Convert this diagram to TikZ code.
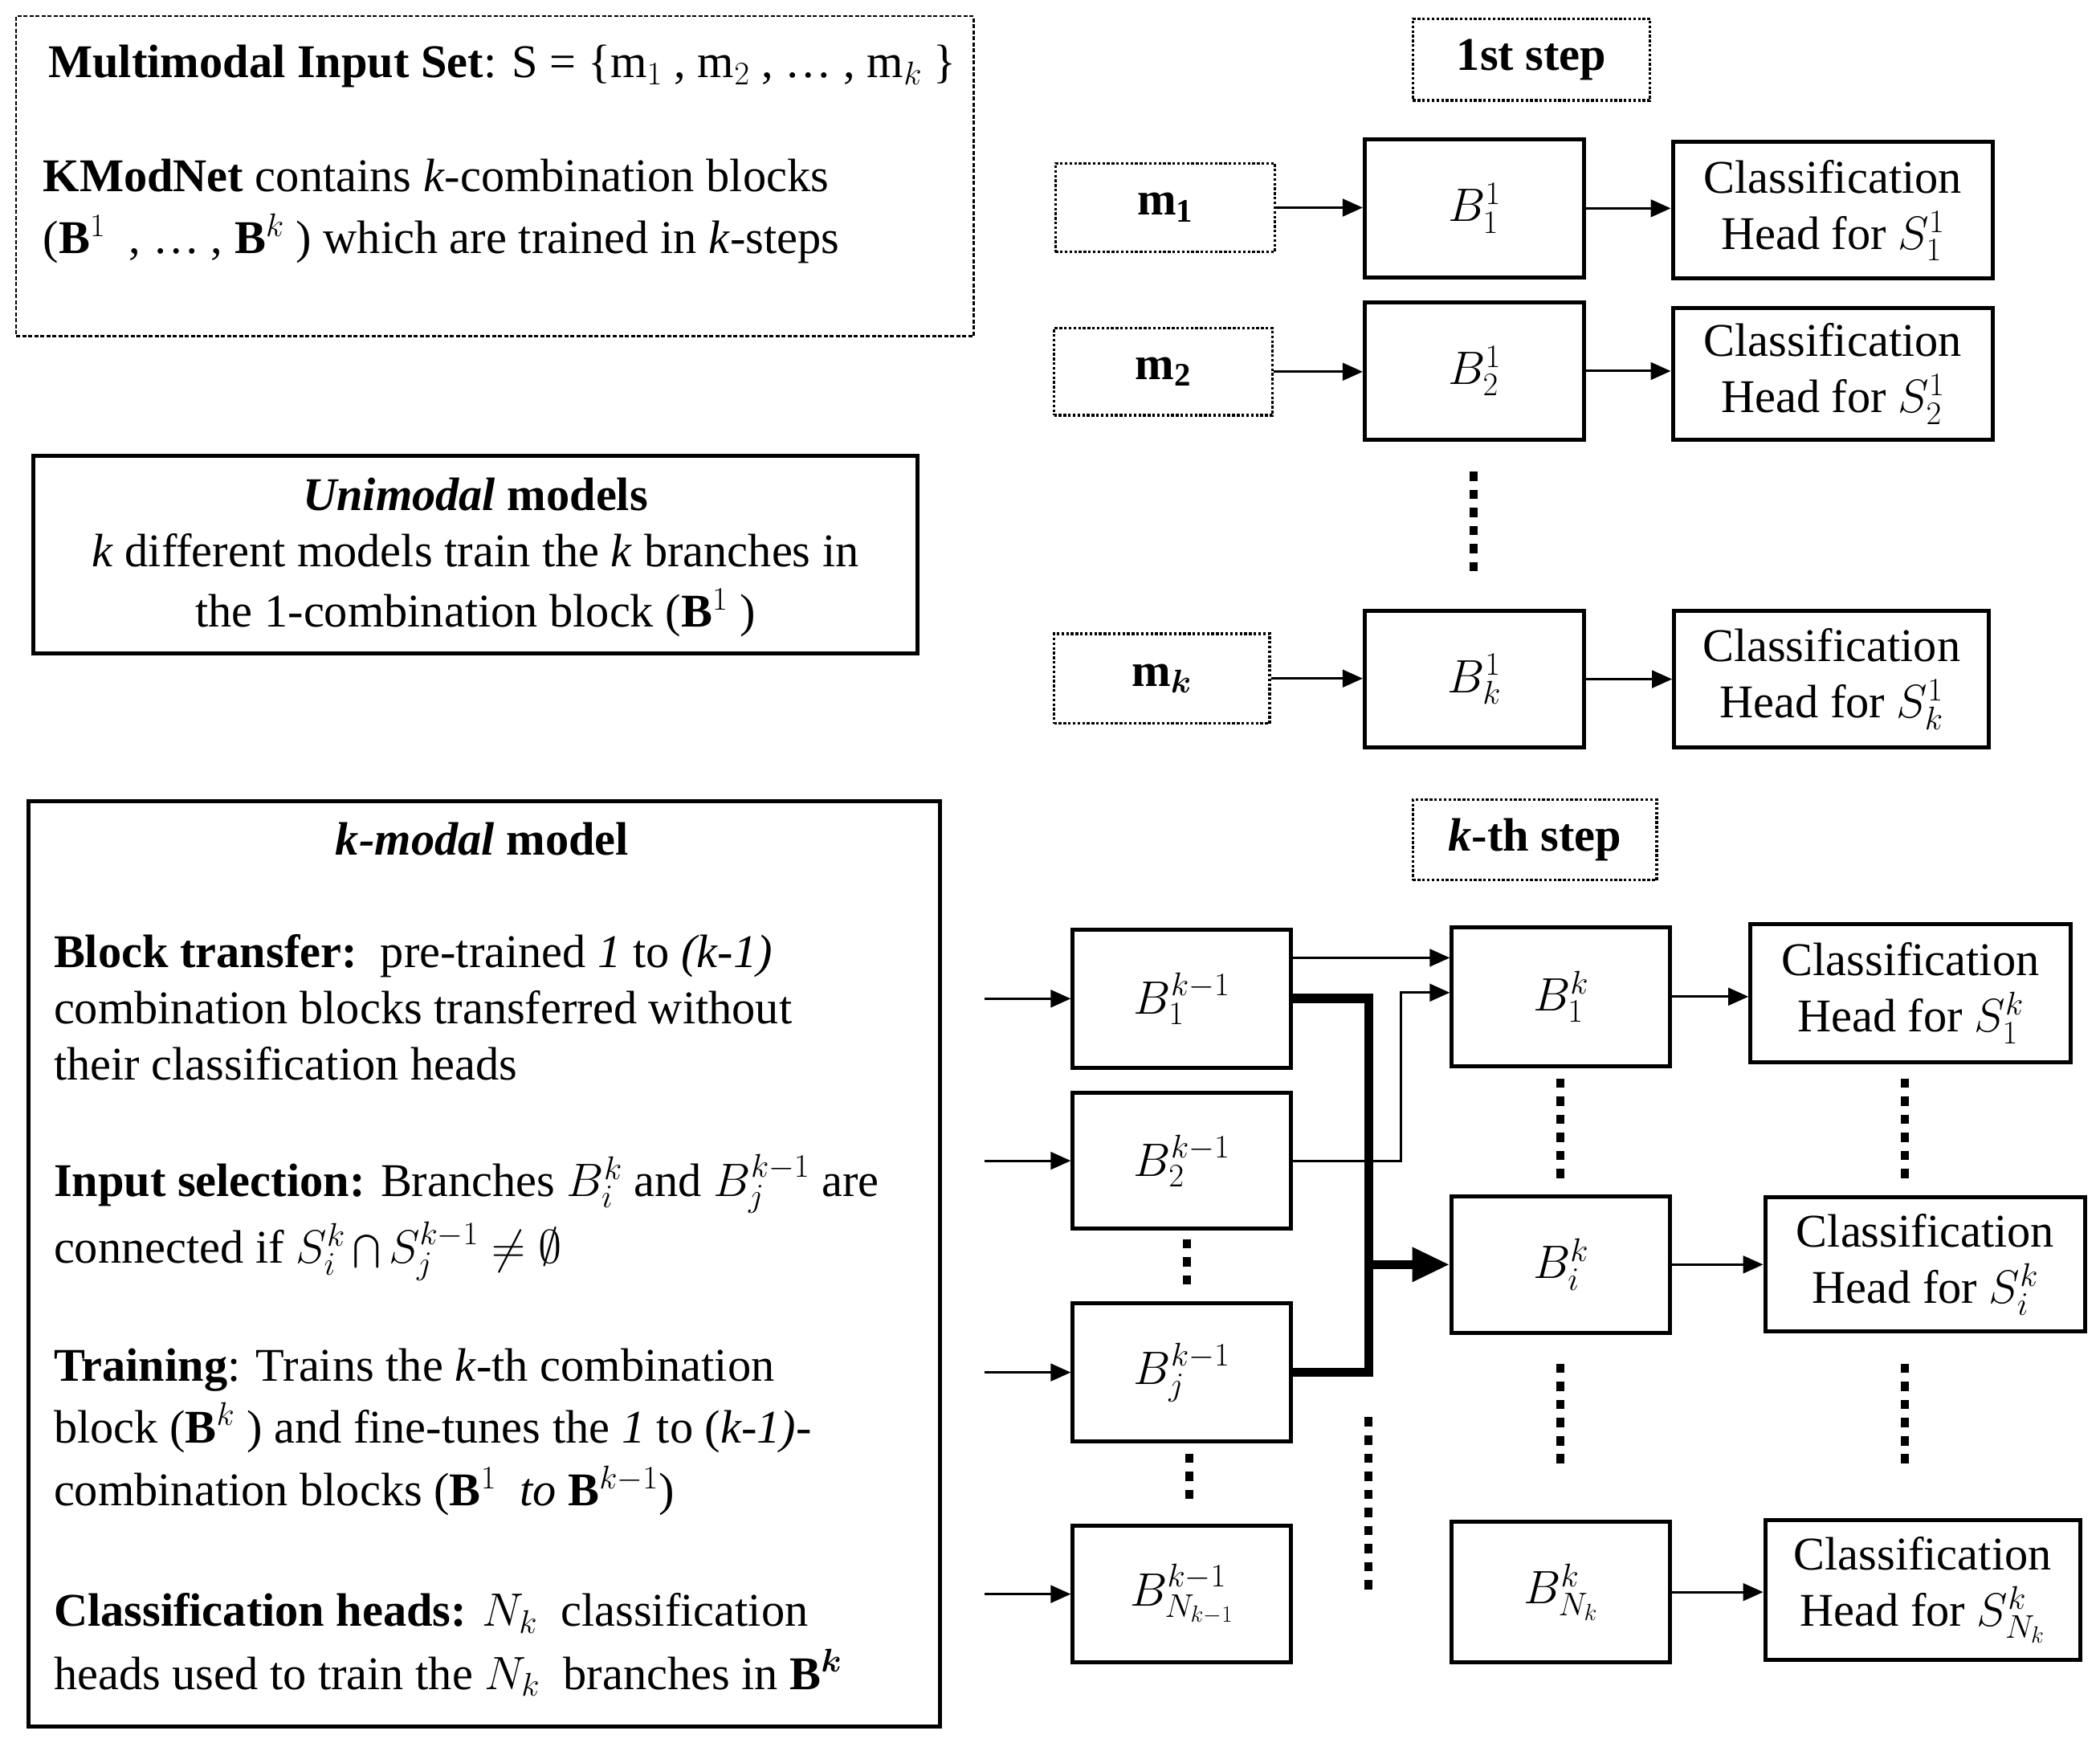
\RequirePackage{fix-cm}
\documentclass[tikz,border=0pt]{standalone}
\usepackage{amsmath}
\usepackage{fontspec}
\setmainfont{Liberation Serif}
\usetikzlibrary{arrows.meta}
\newcommand\mybox[7][bx]{\node[#1, minimum width={(#5-#3)*1pt}, minimum height={(#6-#4)*1pt}] (#2) at ({(#3+#5)/2},{(#4+#6)/2}) {#7};}
\tikzset{
  bx/.style={draw, line width=3pt, inner sep=0pt, align=center},
  dbx/.style={draw, line width=2pt, dash pattern=on 2pt off 1.5pt, inner sep=0pt, align=center},
  tlbx/.style={draw, line width=1.6pt, dash pattern=on 3pt off 1.5pt, inner sep=0pt},
  arr/.style={-{Triangle[length=15pt,width=13pt]}, line width=1.8pt},
  thk/.style={line width=7pt, line join=miter},
  thkarr/.style={line width=7pt, -{Triangle[length=28pt,width=24pt]}},
  vdots/.style={line width=6pt, dash pattern=on 7pt off 6.5pt},
  txt/.style={anchor=base west, inner sep=0pt},
  ctxt/.style={anchor=base, inner sep=0pt}
}
\begin{document}
\fontsize{35}{42}\selectfont
\begin{tikzpicture}[x=1pt,y=-1pt,font=\fontsize{35}{42}\selectfont]
\useasboundingbox (0,0) rectangle (1568,1301);

% ---------- left panels ----------
\mybox[tlbx]{info}{12}{12}{727}{251}{}
\node[txt] (t1) at (36,58) {\textbf{Multimodal Input Set}: S = \{m$_1$ , m$_2$ , … ,\ m$_{k}$ \}};
\node[txt] (t2) at (32,143) {\textbf{KModNet} contains \textit{k}-combination blocks};
\node[txt] (t3) at (32,189) {(\textbf{B}$^{1}$\ \ , … , \textbf{B}$^{k}$ ) which are trained in \textit{k}-steps};

\mybox{uni}{25}{340}{685}{488}{}
\node[ctxt] (u1) at (355,381) {\textbf{\textit{Unimodal} models}};
\node[ctxt] (u2) at (355,423) {\textit{k} different models train the \textit{k} branches in};
\node[ctxt] (u3) at (355,468) {the 1-combination block (\textbf{B}$^{1}$ )};

\mybox{kmod}{21}{598}{702}{1289}{}
\node[ctxt] (k0) at (360,638) {\textbf{\textit{k-modal} model}};
\node[txt] (k1) at (40,722) {\textbf{Block transfer:}\ \ pre-trained \textit{1} to \textit{(k-1)}};
\node[txt] (k2) at (40,764) {combination blocks transferred without};
\node[txt] (k3) at (40,806) {their classification heads};
\node[txt] (k4) at (40,893) {\textbf{Input selection:} Branches $B_i^k$ and $B_j^{k-1}$ are};
\node[txt] (k5) at (40,943) {connected if $S_i^k \bigcap S_j^{k-1} \neq \emptyset$};
\node[txt] (k6) at (40,1031) {\textbf{Training}: Trains the \textit{k}-th combination};
\node[txt] (k7) at (40,1077) {block (\textbf{B}$^{k}$ ) and fine-tunes the \textit{1} to (\textit{k-1)}-};
\node[txt] (k8) at (40,1124) {combination blocks (\textbf{B}$^{1}$\ \ \textit{to} \textbf{B}$^{k-1}$)};
\node[txt] (k9) at (40,1214) {\textbf{Classification heads:} $N_k$\ \ classification};
\node[txt] (k10) at (40,1261) {heads used to train the $N_k$\ \ branches in \textbf{B}$^{\boldsymbol{k}}$};

% ---------- 1st step ----------
\mybox[dbx]{s1}{1055}{14}{1232}{75}{\textbf{1st step}}
\mybox[dbx]{m1}{788}{122}{952}{188}{\textbf{m}$_{\mathbf{1}}$}
\mybox[dbx]{m2}{787}{245}{950}{310}{\textbf{m}$_{\mathbf{2}}$}
\mybox[dbx]{mk}{787}{473}{948}{540}{\textbf{m}$_{\boldsymbol{k}}$}
\mybox{b1}{1019}{104}{1183}{207}{$B_1^1$}
\mybox{b2}{1019}{226}{1183}{328}{$B_2^1$}
\mybox{bk}{1019}{456}{1183}{558}{$B_k^1$}
\mybox{c1}{1249}{106}{1488}{208}{Classification\\Head for $S_1^1$}
\mybox{c2}{1249}{230}{1488}{328}{Classification\\Head for $S_2^1$}
\mybox{ck}{1250}{456}{1485}{558}{Classification\\Head for $S_k^1$}
\draw[arr] (m1.east) -- (m1.east -| b1.west);
\draw[arr] (m2.east) -- (m2.east -| b2.west);
\draw[arr] (mk.east) -- (mk.east -| bk.west);
\draw[arr] (b1.east) -- (b1.east -| c1.west);
\draw[arr] (b2.east) -- (b2.east -| c2.west);
\draw[arr] (bk.east) -- (bk.east -| ck.west);
\draw[vdots] (1100,352) -- (1100,432);

% ---------- k-th step ----------
\mybox[dbx]{sk}{1055}{597}{1237}{657}{\textbf{\textit{k}-th step}}
\mybox{p1}{801}{694}{964}{797}{$B_1^{k-1}$}
\mybox{p2}{801}{816}{964}{917}{$B_2^{k-1}$}
\mybox{pj}{801}{973}{964}{1076}{$B_j^{k-1}$}
\mybox{pn}{801}{1139}{964}{1241}{$B^{k-1}_{N_{k-1}}$}
\mybox{q1}{1084}{692}{1247}{796}{$B_1^{k}$}
\mybox{qi}{1084}{893}{1247}{995}{$B_i^{k}$}
\mybox{qn}{1084}{1136}{1247}{1241}{$B^{k}_{N_{k}}$}
\mybox{d1}{1307}{690}{1546}{793}{Classification\\Head for $S_1^k$}
\mybox{di}{1318}{894}{1557}{994}{Classification\\Head for $S_i^k$}
\mybox{dn}{1318}{1135}{1553}{1239}{Classification\\Head for $S_{N_k}^k$}

\coordinate (inx) at (735,0);
\coordinate (bus) at (1022,0);
\coordinate (jog) at (1046,0);
\coordinate (y715) at (0,715);
\coordinate (y741) at (0,741);

\draw[arr] (inx |- p1.west) -- (p1.west);
\draw[arr] (inx |- p2.west) -- (p2.west);
\draw[arr] (inx |- pj.west) -- (pj.west);
\draw[arr] (inx |- pn.west) -- (pn.west);

\draw[arr] (p1.east |- y715) -- (q1.west |- y715);
\draw[arr] (p2.east) -| (jog |- y741) -- (q1.west |- y741);
\draw[thk] (p1.east) -| (bus |- pj.east) -- (pj.east);
\draw[thkarr] (bus |- qi.west) -- (qi.west);

\draw[arr] (q1.east) -- (q1.east -| d1.west);
\draw[arr] (qi.east) -- (qi.east -| di.west);
\draw[arr] (qn.east) -- (qn.east -| dn.west);

\draw[vdots] (886,925) -- (886,962);
\draw[vdots] (888,1085) -- (888,1125);
\draw[vdots] (1022,1058) -- (1022,1188);
\draw[vdots] (1165,805) -- (1165,885);
\draw[vdots] (1165,1018) -- (1165,1095);
\draw[vdots] (1422,805) -- (1422,885);
\draw[vdots] (1422,1018) -- (1422,1095);
\end{tikzpicture}
\end{document}
